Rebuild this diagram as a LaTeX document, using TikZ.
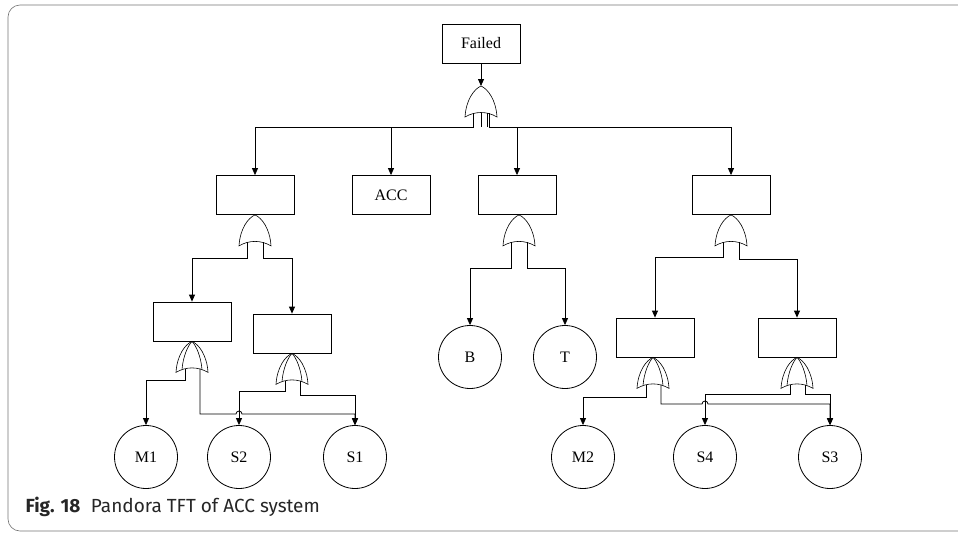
\documentclass[tikz,border=0pt]{standalone}
\usepackage{fontspec}
\setmainfont{Liberation Serif}
\newfontfamily\capfont{Fira Sans}
\usetikzlibrary{arrows.meta,calc}

\tikzset{
  wire/.style={line width=0.8pt},
  arr/.style={wire,-{Triangle[length=7pt,width=6pt]}},
  evbox/.style={draw,wire,minimum width=78pt,minimum height=39pt,inner sep=0pt},
  basic/.style={draw,wire,circle,minimum size=63pt,inner sep=0pt},
  frame/.style={draw=black!55,line width=0.6pt,rounded corners=12pt},
  % OR gate: apex at the pic origin, inputs on the concave base
  orgate/.pic={
    \draw[line width=0.6pt] (-16,31) .. controls (-15,14) and (-7,3) .. (0,0)
      .. controls (7,3) and (15,14) .. (16,31)
      .. controls (6,25) and (-6,25) .. cycle;
    \coordinate (-top) at (0,0);
    \coordinate (-l) at (-8,27.3);
    \coordinate (-c) at (0,26.5);
    \coordinate (-cr) at (6,26.9);
    \coordinate (-r) at (8,27.3);
  },
  % priority-AND gate: OR outline with a second inner outline
  pandgate/.pic={
    \draw[line width=0.6pt] (-16,31) .. controls (-15,14) and (-7,3) .. (0,0)
      .. controls (7,3) and (15,14) .. (16,31)
      .. controls (6,25) and (-6,25) .. cycle;
    \draw[line width=0.6pt] (-10,28.2) .. controls (-9,15) and (-4,4) .. (0,0)
      .. controls (4,4) and (9,15) .. (10,28.2);
    \coordinate (-top) at (0,0);
    \coordinate (-l) at (-7,27.3);
    \coordinate (-r) at (8,27.3);
  }
}

\begin{document}
\begin{tikzpicture}[x=1pt,y=-1pt,font=\fontsize{16}{19}\selectfont]
\useasboundingbox (0,0) rectangle (958,533);

% figure frame
\draw[frame] (975,5) -- (8,5) -- (8,531) -- (975,531);

% events
\node[evbox] (failed) at (481,43.5) {Failed};
\node[evbox] (L1) at (255,195) {};
\node[evbox] (acc) at (391,195) {ACC};
\node[evbox] (M) at (517,195) {};
\node[evbox] (R) at (731,195) {};
\node[evbox] (LL) at (192,321.5) {};
\node[evbox] (LR) at (292,333.5) {};
\node[evbox] (RL) at (655,337.5) {};
\node[evbox] (RR) at (797,337.5) {};

\node[basic] (m1) at (146,457) {M1};
\node[basic] (s2) at (239,457) {S2};
\node[basic] (s1) at (355,457) {S1};
\node[basic] (b) at (470,357) {B};
\node[basic] (t) at (565,357) {T};
\node[basic] (m2) at (583,457) {M2};
\node[basic] (s4) at (705,457) {S4};
\node[basic] (s3) at (830,457) {S3};

% gates
\pic (g0) at (481,86) {orgate};
\pic (gL1) at (L1.south) {orgate};
\pic (gM) at ($(M.south)+(2,0)$) {orgate};
\pic (gR) at (R.south) {orgate};
\pic (gLL) at (LL.south) {pandgate};
\pic (gLR) at (LR.south) {pandgate};
\pic (gRL) at ($(RL.south)+(-2,0)$) {pandgate};
\pic (gRR) at (RR.south) {pandgate};

% bus levels
\coordinate (b0) at (0,127);
\coordinate (b1) at (0,258);
\coordinate (bM) at (0,268);
\coordinate (bR1) at (0,257);
\coordinate (bR2) at (0,259);
\coordinate (hLL1) at (0,380);
\coordinate (hLL2) at (0,414);
\coordinate (hLR1) at (0,391);
\coordinate (hLR2) at (0,395);
\coordinate (hRL1) at (0,397);
\coordinate (hRL2) at (0,404);
\coordinate (hRR) at (0,394);

% top event
\draw[arr] (failed.south) -- (g0-top);
\draw[arr] (g0-l) -- (g0-l |- b0) -- (L1.north |- b0) -- (L1.north);
\draw[arr] (g0-l |- b0) -- (acc.north |- b0) -- (acc.north);
\draw[wire] (g0-c) -- (g0-c |- b0);
\draw[wire] (g0-cr) -- (g0-cr |- b0);
\draw[arr] (g0-r) -- (g0-r |- b0) -- (R.north |- b0) -- (R.north);
\draw[arr] (M.north |- b0) -- (M.north);

% left branch
\draw[arr] (gL1-l) -- (gL1-l |- b1) -- (LL.north |- b1) -- (LL.north);
\draw[arr] (gL1-r) -- (gL1-r |- b1) -- (LR.north |- b1) -- (LR.north);
\draw[arr] (gLL-l) -- (gLL-l |- hLL1) -- (m1.north |- hLL1) -- (m1.north);
\draw[arr] (gLR-l) -- (gLR-l |- hLR1) -- (s2.north |- hLR1) -- (s2.north);
\draw[arr] (gLR-r) -- (gLR-r |- hLR2) -- (s1.north |- hLR2) -- (s1.north);
\draw[arr] (gLL-r) -- (gLL-r |- hLL2) -- ($(s2.north |- hLL2)+(-3,0)$)
  arc[start angle=180,end angle=0,radius=3pt] -- (s1.north |- hLL2) -- (s1.north);

% middle branch
\draw[arr] (gM-l) -- (gM-l |- bM) -- (b.north |- bM) -- (b.north);
\draw[arr] (gM-r) -- (gM-r |- bM) -- (t.north |- bM) -- (t.north);

% right branch
\draw[arr] (gR-l) -- (gR-l |- bR1) -- (RL.north |- bR1) -- (RL.north);
\draw[arr] (gR-r) -- (gR-r |- bR2) -- (RR.north |- bR2) -- (RR.north);
\draw[arr] (gRL-l) -- (gRL-l |- hRL1) -- (m2.north |- hRL1) -- (m2.north);
\draw[arr] (gRR-l) -- (gRR-l |- hRR) -- (s4.north |- hRR) -- (s4.north);
\draw[arr] (gRR-r) -- (gRR-r |- hRR) -- (s3.north |- hRR) -- (s3.north);
\draw[arr] (gRL-r) -- (gRL-r |- hRL2) -- ($(s4.north |- hRL2)+(-3,0)$)
  arc[start angle=180,end angle=0,radius=3pt] -- (s3.north |- hRL2) -- (s3.north);

% caption
\node[anchor=base west,font=\capfont\fontsize{19}{22}\selectfont,text=black!85] (cap) at (22,512)
  {\textbf{Fig. 18}\hspace{0.55em}Pandora TFT of ACC system};
\end{tikzpicture}
\end{document}
